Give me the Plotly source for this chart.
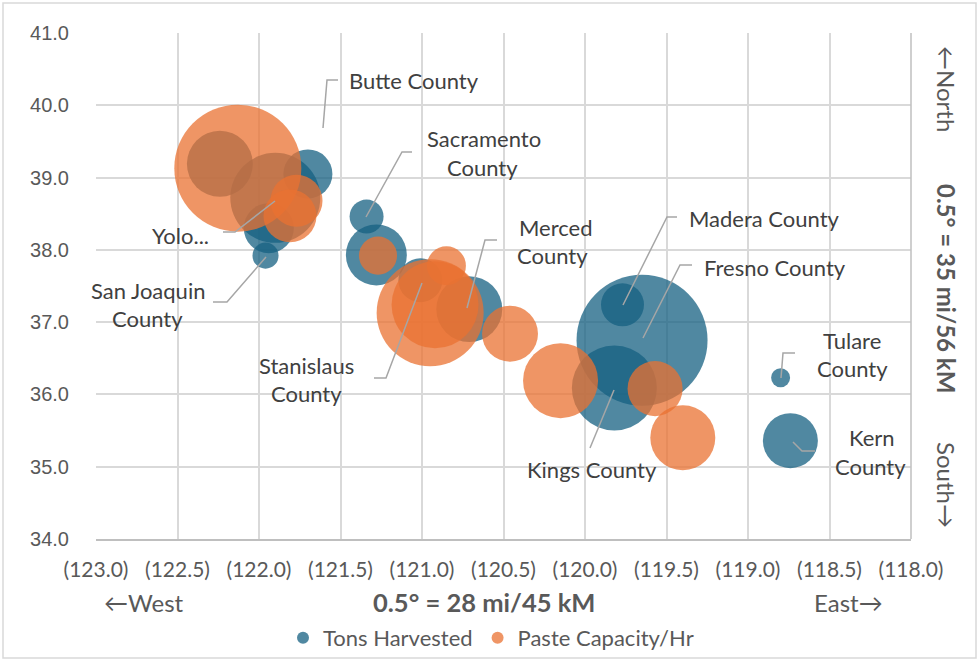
import plotly.graph_objects as go

# ---------------- data ----------------
counties = ["Colusa", "Yolo", "Sutter", "Solano", "Contra Costa", "Sacramento",
            "San Joaquin", "Stanislaus", "Merced", "Madera", "Fresno", "Kings",
            "Tulare", "Kern", "Butte"]
county_lon = [-122.24, -121.90, -121.70, -121.94, -121.96, -121.34,
              -121.28, -121.01, -120.71, -119.77, -119.65, -119.82,
              -118.80, -118.74, -121.60]
county_lat = [39.19, 38.72, 39.05, 38.30, 37.92, 38.46,
              37.93, 37.58, 37.18, 37.24, 36.75, 36.09,
              36.23, 35.36, 39.67]
tons_harvested = [1015, 1888, 560, 583, 158, 269,
                  867, 451, 1015, 431, 4000, 1684,
                  84, 705, 0]          # thousand tons

plant_lon = [-122.13, -121.77, -121.81, -121.27, -120.85, -120.95,
             -120.92, -120.46, -120.15, -119.57, -119.40]
plant_lat = [39.13, 38.68, 38.47, 37.92, 37.78, 37.13,
             37.24, 36.84, 36.19, 36.08, 35.40]
paste_capacity = [1000, 168, 174, 90, 94, 710,
                  469, 194, 349, 188, 262]   # tons / hr

xtick_vals = [-123.0, -122.5, -122.0, -121.5, -121.0, -120.5,
              -120.0, -119.5, -119.0, -118.5, -118.0]
xtick_text = ["(123.0)", "(122.5)", "(122.0)", "(121.5)", "(121.0)", "(120.5)",
              "(120.0)", "(119.5)", "(119.0)", "(118.5)", "(118.0)"]
ytick_vals = [34, 35, 36, 37, 38, 39, 40, 41]
ytick_text = ["34.0", "35.0", "36.0", "37.0", "38.0", "39.0", "40.0", "41.0"]

# ---------------- layout helpers (reference pixel -> axis value) ----------------
W, H = 978, 661
L, R, T, B = 96, 911, 33, 539
X0, X1, Y0, Y1 = -123.0, -118.0, 34.0, 41.0


def px_x(p):
    return X0 + (p - L) * (X1 - X0) / (R - L)


def px_y(p):
    return Y1 - (p - T) * (Y1 - Y0) / (B - T)


def paper_x(p):
    return (p - L) / (R - L)


def paper_y(p):
    return (B - p) / (B - T)


BLUE = "rgb(21,96,130)"
ORANGE = "rgb(233,113,50)"
GREY = "#595959"
LABEL = "#404040"
LEADER = "#A6A6A6"
FONT = "Lato"

max_blue_d = 131
max_orange_d = 127

fig = go.Figure()
fig.add_trace(go.Scatter(
    x=county_lon, y=county_lat, mode="markers", name="Tons Harvested",
    text=counties,
    marker=dict(size=tons_harvested, sizemode="area",
                sizeref=2.0 * max(tons_harvested) / max_blue_d ** 2,
                color=BLUE, opacity=0.75, line=dict(width=0)),
))
fig.add_trace(go.Scatter(
    x=plant_lon, y=plant_lat, mode="markers", name="Paste Capacity/Hr",
    marker=dict(size=paste_capacity, sizemode="area",
                sizeref=2.0 * max(paste_capacity) / max_orange_d ** 2,
                color=ORANGE, opacity=0.75, line=dict(width=0)),
))

# data labels: (text lines with pixel centres), leader polyline in pixels
labels = [
    ([("Butte County", 414, 80)], [(338, 80), (327, 80), (323, 128)]),
    ([("Sacramento", 484, 138), ("County", 482, 167)], [(412, 152), (402, 152), (366, 217)]),
    ([("Yolo...", 180, 235)], [(223, 232), (235, 232), (275, 201)]),
    ([("San Joaquin", 148, 290), ("County", 147, 318)], [(213, 302), (227, 302), (266, 257)]),
    ([("Stanislaus", 306, 365), ("County", 306, 393)], [(374, 378), (386, 378), (422, 283)]),
    ([("Merced", 556, 227), ("County", 552, 255)], [(497, 240), (485, 240), (467, 308)]),
    ([("Madera County", 764, 218)], [(677, 217), (667, 217), (623, 305)]),
    ([("Fresno County", 775, 267)], [(692, 265), (680, 265), (643, 338)]),
    ([("Tulare", 852, 340), ("County", 852, 368)], [(795, 353), (783, 353), (781, 378)]),
    ([("Kern", 872, 437), ("County", 870, 466)], [(815, 451), (802, 451), (793, 442)]),
    ([("Kings County", 592, 469)], [(590, 448), (614, 390)]),
]

shapes = []
annotations = []
for lines, path in labels:
    for txt, cx, cy in lines:
        annotations.append(dict(x=px_x(cx), y=px_y(cy), xref="x", yref="y", text=txt,
                                showarrow=False, xanchor="center", yanchor="middle",
                                font=dict(family=FONT, size=22, color=LABEL)))
    d = "M " + " L ".join(f"{px_x(a)},{px_y(b)}" for a, b in path)
    shapes.append(dict(type="path", path=d, xref="x", yref="y",
                       line=dict(color=LEADER, width=1.5), layer="above"))

# outer chart border and right axis line
shapes.append(dict(type="rect", xref="paper", yref="paper",
                   x0=paper_x(3), x1=paper_x(976), y0=paper_y(658), y1=paper_y(3),
                   line=dict(color="#D9D9D9", width=1.5), layer="below"))
shapes.append(dict(type="line", xref="paper", yref="paper", x0=1, x1=1, y0=0, y1=1,
                   line=dict(color="#BFBFBF", width=1.5), layer="above"))


def title_ann(text, cx, cy, angle=0, size=24):
    return dict(x=paper_x(cx), y=paper_y(cy), xref="paper", yref="paper",
                xanchor="center", yanchor="middle", textangle=angle,
                text=text, showarrow=False, font=dict(family=FONT, size=size, color=GREY))


annotations += [
    title_ann("<b>0.5° = 28 mi/45 kM</b>", 484, 602, size=25.5),
    title_ann("←West", 144, 602),
    title_ann("East→", 848, 602),
    title_ann("←North", 947, 89, 90),
    title_ann("<b>0.5° = 35 mi/56 kM</b>", 947, 288, 90),
    title_ann("South→", 947, 485, 90),
]

fig.update_layout(
    width=W, height=H,
    margin=dict(l=L, r=W - R, t=T, b=H - B, autoexpand=False),
    paper_bgcolor="white", plot_bgcolor="white",
    showlegend=True,
    legend=dict(orientation="h", x=paper_x(491), xanchor="center",
                y=paper_y(638), yanchor="middle", itemsizing="constant",
                font=dict(family=FONT, size=22, color=GREY), bgcolor="rgba(0,0,0,0)"),
    xaxis=dict(range=[X0, X1], tickvals=xtick_vals, ticktext=xtick_text,
               showgrid=True, gridcolor="#D9D9D9", gridwidth=1.5, zeroline=False,
               showline=True, linecolor="#BFBFBF", linewidth=1.5, ticks="",
               ticklabelstandoff=11,
               tickfont=dict(family=FONT, size=21, color=GREY), fixedrange=True),
    yaxis=dict(range=[Y0, Y1], tickvals=ytick_vals, ticktext=ytick_text,
               showgrid=True, gridcolor="#D9D9D9", gridwidth=1.5, zeroline=False,
               showline=False, ticks="", ticklabelstandoff=26,
               tickfont=dict(family="Liberation Sans", size=20, color=GREY), fixedrange=True),
    shapes=shapes, annotations=annotations,
    hovermode=False,
)

fig.write_html("out.html", config={"displayModeBar": False},
               post_script="document.body.style.margin='0';document.body.style.overflow='hidden';")
